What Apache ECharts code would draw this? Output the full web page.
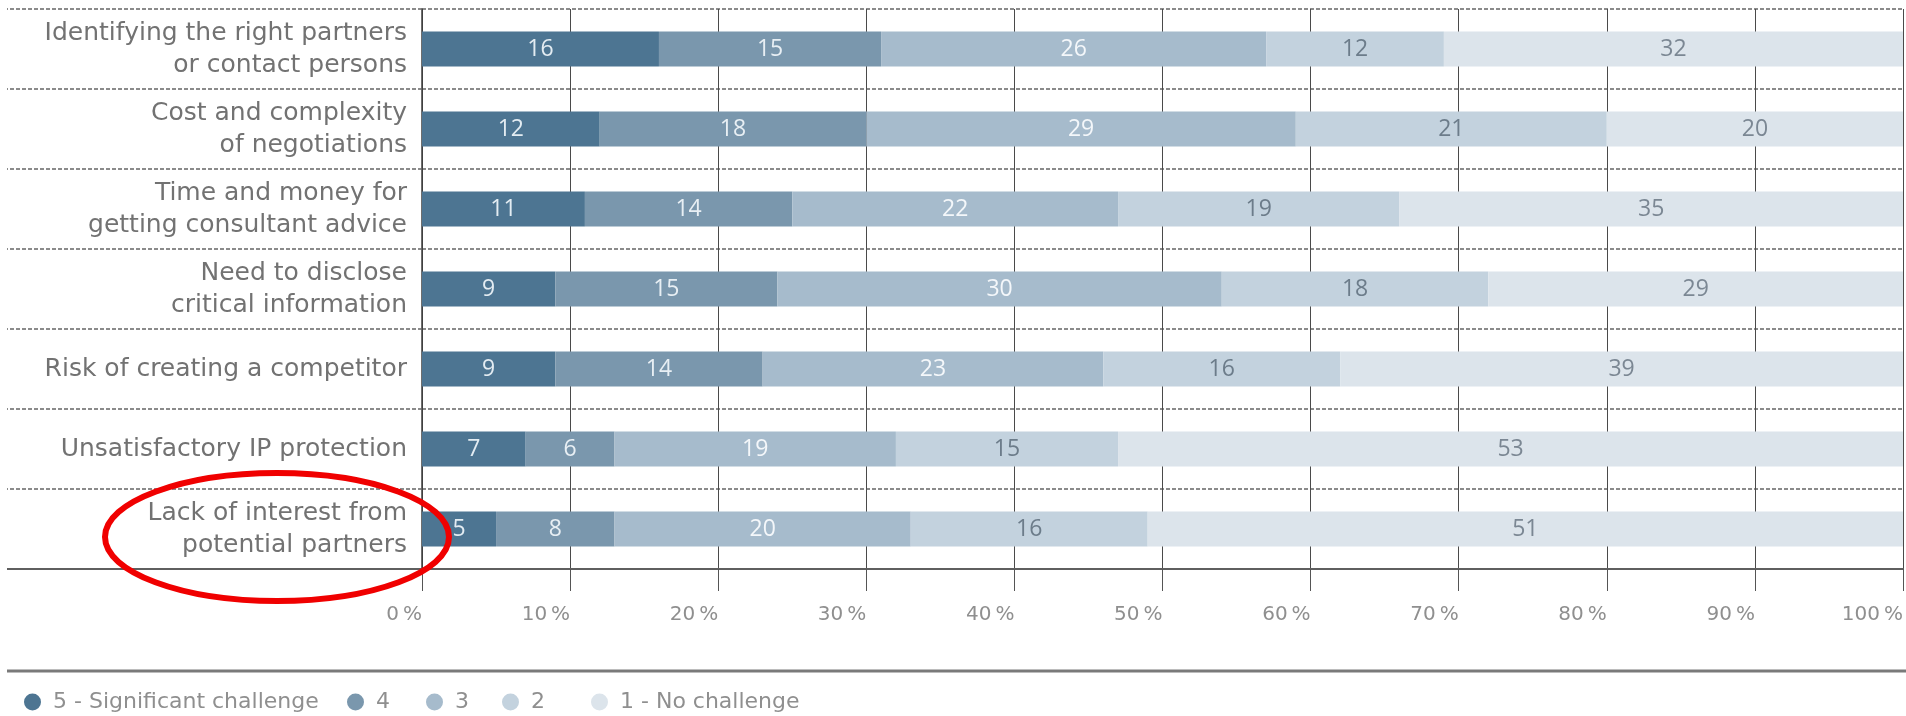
<!DOCTYPE html>
<html>
<head>
<meta charset="utf-8">
<script src="https://cdn.jsdelivr.net/npm/echarts@6/dist/echarts.min.js"></script>
<style>
html,body{margin:0;padding:0;background:#fff;}
#chart{width:1906px;height:716px;}
</style>
</head>
<body>
<div id="chart"></div>
<script>
const categories = [
  "Identifying the right partners\nor contact persons",
  "Cost and complexity\nof negotiations",
  "Time and money for\ngetting consultant advice",
  "Need to disclose\ncritical information",
  "Risk of creating a competitor",
  "Unsatisfactory IP protection",
  "Lack of interest from\npotential partners"
];
const seriesNames = ["5 - Significant challenge", "4", "3", "2", "1 - No challenge"];
const s5 = [16, 12, 11, 9, 9, 7, 5];
const s4 = [15, 18, 14, 15, 14, 6, 8];
const s3 = [26, 29, 22, 30, 23, 19, 20];
const s2 = [12, 21, 19, 18, 16, 15, 16];
const s1 = [32, 20, 35, 29, 39, 53, 51];
const xTicks = [0, 10, 20, 30, 40, 50, 60, 70, 80, 90, 100];

const colors = ["#4d7592", "#7a97ad", "#a6bbcc", "#c3d2de", "#dce4eb"];
const labelColors = ["#e3ecf2", "#e8eff4", "#f4f7fa", "#6c7c8a", "#7b8793"];
const FONT = "'DejaVu Sans', 'Open Sans', sans-serif";
const FONT2 = "'Open Sans', 'DejaVu Sans', sans-serif";

const GRID_LEFT = 422, GRID_TOP = 9, GRID_BOTTOM_Y = 569, W = 1906;
const legendLefts = [19, 342, 421, 497, 586];

const chart = echarts.init(document.getElementById('chart'), null, {renderer: 'canvas'});
const allSeries = [s5, s4, s3, s2, s1];

chart.setOption({
  animation: false,
  backgroundColor: '#ffffff',
  grid: {left: GRID_LEFT, right: 2, top: GRID_TOP, bottom: 716 - GRID_BOTTOM_Y, containLabel: false},
  xAxis: {
    type: 'value', min: 0, max: 100, interval: 10,
    axisLine: {show: true, lineStyle: {color: '#5f5f5f', width: 2}},
    axisTick: {show: true, length: 22, lineStyle: {color: '#555', width: 1}},
    splitLine: {show: true, lineStyle: {color: '#4a4a4a', width: 1}},
    axisLabel: {
      align: 'right', margin: 36, fontSize: 20, color: '#8f8f8f', fontFamily: FONT,
      formatter: v => xTicks.indexOf(v) >= 0 ? v + '\u2009%' : ''
    }
  },
  yAxis: {
    type: 'category', inverse: true, data: categories,
    axisLine: {show: true, lineStyle: {color: '#3e3e3e', width: 1.5}},
    axisTick: {show: true, length: 415, lineStyle: {color: '#666', width: 1.5, type: [4, 2]}},
    splitLine: {show: true, lineStyle: {color: '#666', width: 1.5, type: [4, 2]}},
    axisLabel: {fontSize: 25, color: '#727272', fontFamily: FONT, lineHeight: 32, margin: 15, align: 'right'}
  },
  legend: seriesNames.map((n, i) => ({
    left: legendLefts[i], top: 686, icon: 'circle', itemWidth: 17, itemHeight: 17,
    textStyle: {fontSize: 22, color: '#8f8f8f', fontFamily: FONT, padding: [0, 0, 0, 7]},
    data: [n]
  })),
  series: allSeries.map((d, i) => ({
    name: seriesNames[i], type: 'bar', stack: 'total', data: d,
    barWidth: 35,
    itemStyle: {color: colors[i]},
    label: {show: true, position: 'inside', fontSize: 23, color: labelColors[i], fontFamily: FONT2}
  })),
  graphic: [
    {type: 'line', shape: {x1: 7, y1: GRID_BOTTOM_Y, x2: GRID_LEFT, y2: GRID_BOTTOM_Y},
     style: {stroke: '#5f5f5f', lineWidth: 2}, z: 10},
    {type: 'line', shape: {x1: 7, y1: 671, x2: W, y2: 671},
     style: {stroke: '#7a7a7a', lineWidth: 3}, z: 10},
    {type: 'ellipse', shape: {cx: 277, cy: 537, rx: 172, ry: 64},
     style: {fill: 'none', stroke: '#f00000', lineWidth: 6}, z: 100}
  ]
});
</script>
</body>
</html>
